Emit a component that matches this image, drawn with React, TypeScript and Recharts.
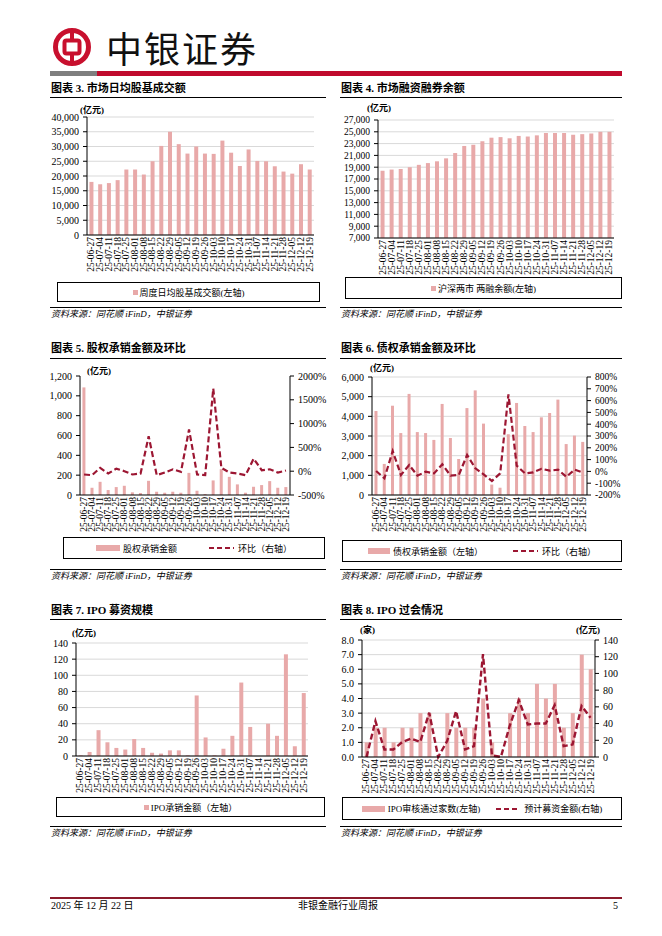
import React from 'react';
import { ComposedChart, Bar, Line, XAxis, YAxis, CartesianGrid } from 'recharts';

const weeks = ['25-06-27','25-07-04','25-07-11','25-07-18','25-07-25','25-08-01','25-08-08','25-08-15','25-08-22','25-08-29','25-09-05','25-09-12','25-09-19','25-09-26','25-10-03','25-10-10','25-10-17','25-10-24','25-10-31','25-11-07','25-11-14','25-11-21','25-11-28','25-12-05','25-12-12','25-12-19'];

const turnover = [18000,17200,17600,18600,22200,22200,20500,25000,30200,35000,30800,27600,30000,27600,27500,32000,27900,23400,29000,25100,25000,23300,21500,20800,24000,22200];
const marginBalance = [18400,18600,18700,19000,19400,19700,20000,20500,21400,22600,22800,23400,24000,24100,23900,24300,24200,24400,24800,24800,24800,24500,24600,24700,25000,25000];
const equityUw = [1085,73,133,50,80,93,27,20,143,33,23,33,23,223,43,10,147,260,183,107,23,83,100,140,73,80];
const equityMoM = [-69,-83,69,-49,55,0,-69,-49,735,-83,-28,40,-14,875,-69,-83,1735,69,-28,-49,-83,263,20,40,-28,14];
const bondUw = [4270,1580,4540,3150,5140,3200,3150,2800,4630,2900,1830,4420,5320,3630,530,370,3090,4680,3510,3200,3950,4170,4850,2590,3020,2700];
const bondMoM = [3,-59,173,-30,54,-36,-2,-17,60,-36,-30,139,26,-25,-81,-17,653,49,-17,-8,22,6,15,-46,15,-10];
const ipoAmount = [1,5,32,17,10,8,21,10,4,3,7,7,1,75,23,1,9,25,91,36,0,40,25,126,12,78];
const ipoPassed = [1,2,2,1,2,2,3,3,0,3,2,2,2,4,1,0,3,4,3,5,4,5,2,3,7,6];
const ipoExpected = [0,43,9,9,18,22,18,53,0,19,55,9,13,123,2,0,38,68,39,40,40,62,13,15,61,47];

const ticks3 = [0,5000,10000,15000,20000,25000,30000,35000,40000];
const ticks4 = [7000,9000,11000,13000,15000,17000,19000,21000,23000,25000,27000];
const ticks5L = [0,200,400,600,800,1000,1200];
const ticks5R = [-500,0,500,1000,1500,2000];
const ticks6L = [0,1000,2000,3000,4000,5000,6000];
const ticks6R = [-200,-100,0,100,200,300,400,500,600,700,800];
const ticks7 = [0,20,40,60,80,100,120,140];
const ticks8L = [0,1,2,3,4,5,6,7,8];
const ticks8R = [0,20,40,60,80,100,120,140];

const PINK = '#E8A9A9';
const RED = '#9C1632';
const GRID = '#D9D9D9';
const SERIF = '"Liberation Serif","Noto Sans CJK SC",serif';

const d3 = weeks.map((w, i) => ({ w, v: turnover[i] }));
const d4 = weeks.map((w, i) => ({ w, v: marginBalance[i] }));
const d5 = weeks.map((w, i) => ({ w, v: equityUw[i], p: equityMoM[i] }));
const d6 = weeks.map((w, i) => ({ w, v: bondUw[i], p: bondMoM[i] }));
const d7 = weeks.map((w, i) => ({ w, v: ipoAmount[i] }));
const d8 = weeks.map((w, i) => ({ w, v: ipoPassed[i], p: ipoExpected[i] }));

const fmtNum = (v: number) => v.toLocaleString('en-US');
const fmtPct = (v: number) => `${v}%`;
const fmt1 = (v: number) => v.toFixed(1);

const XTick = (props: any) => {
  const { x, y, payload } = props;
  return (
    <text x={x} y={y} transform={`rotate(-90 ${x} ${y})`} textAnchor="end" dominantBaseline="central"
      fontSize={9.5} fontFamily={SERIF} fill="#000">{payload.value}</text>
  );
};

const yTick = { fontSize: 10, fill: '#000', fontFamily: SERIF };
const yTickS = { fontSize: 9.5, fill: '#000', fontFamily: SERIF };
const axisStroke = { stroke: '#000' };

const T = ({ x, y, size = 10, bold = false, italic = false, anchor = 'start', children }: any) => (
  <div style={{
    position: 'absolute', left: x, top: y - 10, height: 20, lineHeight: '20px', fontSize: size,
    fontWeight: bold ? 700 : 400, fontStyle: italic ? 'italic' : 'normal', whiteSpace: 'nowrap',
    fontFamily: SERIF, color: '#000',
    transform: anchor === 'middle' ? 'translateX(-50%)' : anchor === 'end' ? 'translateX(-100%)' : 'none',
  }}>{children}</div>
);

const HLine = ({ x1, x2, y, color = '#000', h = 1 }: any) => (
  <div style={{ position: 'absolute', left: x1, top: y, width: x2 - x1, height: h, background: color }} />
);

const SwBox = () => <span style={{ display: 'inline-block', width: 5, height: 5, background: PINK, marginRight: 2 }} />;
const SwBar = ({ w = 24 }: any) => <span style={{ display: 'inline-block', width: w, height: 6, background: PINK, marginRight: 3 }} />;
const SwDash = ({ w = 25 }: any) => (
  <svg width={w} height={6} style={{ marginRight: 4 }}>
    <line x1={0} y1={3} x2={w} y2={3} stroke={RED} strokeWidth={2.2} strokeDasharray="5 3" />
  </svg>
);

const LegendBox = ({ left, top, width, height, gap = 30, children }: any) => (
  <div style={{
    position: 'absolute', left, top, width, height, border: '1px solid #000', boxSizing: 'border-box',
    display: 'flex', alignItems: 'center', justifyContent: 'center', gap, fontSize: 9, fontFamily: SERIF, whiteSpace: 'nowrap',
  }}>{children}</div>
);
const Item = ({ children }: any) => <span style={{ display: 'inline-flex', alignItems: 'center' }}>{children}</span>;

const SOURCE = '资料来源：同花顺 iFinD，中银证券';

export default function App() {
  return (
    <div style={{ position: 'absolute', left: 0, top: 0, width: 662, height: 936, background: '#fff', fontFamily: SERIF, overflow: 'hidden' }}>
      {/* Header */}
      <svg style={{ position: 'absolute', left: 53, top: 28 }} width={38} height={38} viewBox="0 0 38 38">
        <circle cx={19} cy={19} r={16.5} fill="none" stroke="#C8102E" strokeWidth={5} />
        <rect x={11.5} y={12.5} width={15} height={13} rx={2} fill="none" stroke="#C8102E" strokeWidth={4} />
        <rect x={17} y={2} width={4} height={9} fill="#C8102E" />
        <rect x={17} y={27} width={4} height={9} fill="#C8102E" />
      </svg>
      <div style={{ position: 'absolute', left: 106, top: 24, fontSize: 36, lineHeight: '46px', letterSpacing: 2, fontFamily: '"Noto Sans CJK SC"', color: '#111' }}>中银证券</div>
      <div style={{ position: 'absolute', left: 50, top: 71, width: 47, height: 5, background: '#7F7F7F' }} />
      <div style={{ position: 'absolute', left: 97, top: 71, width: 525, height: 5, background: '#C00A2D' }} />

      {/* Titles */}
      <T x={51} y={88} size={11} bold>图表 3. 市场日均股基成交额</T>
      <HLine x1={50} x2={326} y={97} />
      <T x={341} y={88} size={11} bold>图表 4. 市场融资融券余额</T>
      <HLine x1={340} x2={622} y={97} />

      {/* Chart 3 */}
      <T x={80} y={110} size={9} bold>(亿元)</T>
      <div style={{ position: 'absolute', left: 40, top: 100 }}>
        <ComposedChart width={285} height={180} data={d3} margin={{ top: 17, right: 11, bottom: 0, left: 0 }} barCategoryGap="28%">
          <CartesianGrid vertical={false} stroke={GRID} />
          <XAxis dataKey="w" interval={0} tick={<XTick />} tickLine={false} tickSize={2} tickMargin={0} height={45} axisLine={axisStroke} />
          <YAxis width={47} interval={0} domain={[0, 40000]} ticks={ticks3} tickFormatter={fmtNum} tick={yTick} tickSize={4} tickMargin={4} axisLine={axisStroke} tickLine={axisStroke} />
          <Bar dataKey="v" fill={PINK} isAnimationActive={false} />
        </ComposedChart>
      </div>
      <LegendBox left={57} top={282} width={263} height={20}><Item><SwBox />周度日均股基成交额(左轴)</Item></LegendBox>
      <HLine x1={50} x2={326} y={307} />
      <T x={51} y={314} size={9} italic>{SOURCE}</T>

      {/* Chart 4 */}
      <T x={367} y={108} size={9} bold>(亿元)</T>
      <div style={{ position: 'absolute', left: 335, top: 100 }}>
        <ComposedChart width={285} height={180} data={d4} margin={{ top: 20, right: 6, bottom: 0, left: 0 }} barCategoryGap="28%">
          <CartesianGrid vertical={false} stroke={GRID} />
          <XAxis dataKey="w" interval={0} tick={<XTick />} tickLine={false} tickSize={2} tickMargin={0} height={42} axisLine={axisStroke} />
          <YAxis width={43} interval={0} domain={[7000, 27000]} ticks={ticks4} tickFormatter={fmtNum} tick={yTickS} tickSize={4} tickMargin={4} axisLine={axisStroke} tickLine={axisStroke} />
          <Bar dataKey="v" fill={PINK} isAnimationActive={false} />
        </ComposedChart>
      </div>
      <LegendBox left={345} top={277} width={277} height={22}><Item><SwBox />沪深两市 两融余额(左轴)</Item></LegendBox>
      <HLine x1={340} x2={622} y={307} />
      <T x={341} y={314} size={9} italic>{SOURCE}</T>

      {/* Titles 5/6 */}
      <T x={51} y={348} size={11} bold>图表 5. 股权承销金额及环比</T>
      <HLine x1={50} x2={326} y={358} />
      <T x={341} y={348} size={11} bold>图表 6. 债权承销金额及环比</T>
      <HLine x1={340} x2={622} y={358} />

      {/* Chart 5 */}
      <T x={87} y={371} size={9} bold>(亿元)</T>
      <div style={{ position: 'absolute', left: 40, top: 360 }}>
        <ComposedChart width={290} height={175} data={d5} margin={{ top: 16, right: 0, bottom: 0, left: 0 }} barCategoryGap="30%">
          <XAxis dataKey="w" interval={0} tick={<XTick />} tickLine={false} tickSize={2} tickMargin={0} height={40} axisLine={axisStroke} />
          <YAxis width={40} interval={0} domain={[0, 1200]} ticks={ticks5L} tickFormatter={fmtNum} tick={yTick} tickSize={4} tickMargin={4} axisLine={axisStroke} tickLine={axisStroke} />
          <YAxis yAxisId="r" interval={0} orientation="right" width={40} domain={[-500, 2000]} ticks={ticks5R} tickFormatter={fmtPct} tick={yTick} tickSize={4} tickMargin={4} axisLine={axisStroke} tickLine={axisStroke} />
          <Bar dataKey="v" fill={PINK} isAnimationActive={false} />
          <Line yAxisId="r" dataKey="p" stroke={RED} strokeWidth={2.2} strokeDasharray="6 3" dot={false} isAnimationActive={false} />
        </ComposedChart>
      </div>
      <LegendBox left={63} top={537} width={262} height={22} gap={32}>
        <Item><SwBar />股权承销金额</Item>
        <Item><SwDash />环比（右轴）</Item>
      </LegendBox>
      <HLine x1={50} x2={326} y={569} />
      <T x={51} y={576} size={9} italic>{SOURCE}</T>

      {/* Chart 6 */}
      <T x={370} y={368} size={9} bold>(亿元)</T>
      <div style={{ position: 'absolute', left: 335, top: 360 }}>
        <ComposedChart width={290} height={175} data={d6} margin={{ top: 17, right: 0, bottom: 0, left: 0 }} barCategoryGap="30%">
          <CartesianGrid vertical={false} stroke={GRID} />
          <XAxis dataKey="w" interval={0} tick={<XTick />} tickLine={false} tickSize={2} tickMargin={0} height={40} axisLine={axisStroke} />
          <YAxis width={37} interval={0} domain={[0, 6000]} ticks={ticks6L} tickFormatter={fmtNum} tick={yTick} tickSize={4} tickMargin={4} axisLine={axisStroke} tickLine={axisStroke} />
          <YAxis yAxisId="r" interval={0} orientation="right" width={38} domain={[-200, 800]} ticks={ticks6R} tickFormatter={fmtPct} tick={yTickS} tickSize={4} tickMargin={4} axisLine={axisStroke} tickLine={axisStroke} />
          <Bar dataKey="v" fill={PINK} isAnimationActive={false} />
          <Line yAxisId="r" dataKey="p" stroke={RED} strokeWidth={2.2} strokeDasharray="6 3" dot={false} isAnimationActive={false} />
        </ComposedChart>
      </div>
      <LegendBox left={342} top={540} width={280} height={22} gap={30}>
        <Item><SwBar w={22} />债权承销金额（左轴）</Item>
        <Item><SwDash />环比（右轴）</Item>
      </LegendBox>
      <HLine x1={340} x2={622} y={569} />
      <T x={341} y={576} size={9} italic>{SOURCE}</T>

      {/* Titles 7/8 */}
      <T x={51} y={610} size={11} bold>图表 7. IPO 募资规模</T>
      <HLine x1={50} x2={326} y={619} />
      <T x={341} y={610} size={11} bold>图表 8. IPO 过会情况</T>
      <HLine x1={340} x2={622} y={619} />

      {/* Chart 7 */}
      <T x={72} y={633} size={9} bold>(亿元)</T>
      <div style={{ position: 'absolute', left: 40, top: 625 }}>
        <ComposedChart width={285} height={168} data={d7} margin={{ top: 18, right: 17, bottom: 0, left: 0 }} barCategoryGap="30%">
          <CartesianGrid vertical={false} stroke={GRID} />
          <XAxis dataKey="w" interval={0} tick={<XTick />} tickLine={false} tickSize={2} tickMargin={0} height={37} axisLine={axisStroke} />
          <YAxis width={36} interval={0} domain={[0, 140]} ticks={ticks7} tick={yTick} tickSize={4} tickMargin={4} axisLine={axisStroke} tickLine={axisStroke} />
          <Bar dataKey="v" fill={PINK} isAnimationActive={false} />
        </ComposedChart>
      </div>
      <LegendBox left={56} top={797} width={269} height={20}><Item><SwBox />IPO承销金额（左轴）</Item></LegendBox>
      <HLine x1={50} x2={326} y={826} />
      <T x={51} y={833} size={9} italic>{SOURCE}</T>

      {/* Chart 8 */}
      <T x={360} y={630} size={9} bold>(家)</T>
      <T x={576} y={630} size={9} bold>(亿元)</T>
      <div style={{ position: 'absolute', left: 335, top: 625 }}>
        <ComposedChart width={290} height={168} data={d8} margin={{ top: 15, right: 0, bottom: 0, left: 0 }} barCategoryGap="30%">
          <CartesianGrid vertical={false} stroke={GRID} />
          <XAxis dataKey="w" interval={0} tick={<XTick />} tickLine={false} tickSize={2} tickMargin={0} height={36} axisLine={axisStroke} />
          <YAxis width={27} interval={0} domain={[0, 8]} ticks={ticks8L} tickFormatter={fmt1} tick={yTick} tickSize={4} tickMargin={4} axisLine={axisStroke} tickLine={axisStroke} />
          <YAxis yAxisId="r" interval={0} orientation="right" width={30} domain={[0, 140]} ticks={ticks8R} tick={yTick} tickSize={4} tickMargin={4} axisLine={axisStroke} tickLine={axisStroke} />
          <Bar dataKey="v" fill={PINK} isAnimationActive={false} />
          <Line yAxisId="r" dataKey="p" stroke={RED} strokeWidth={2.4} strokeDasharray="6 3" dot={false} isAnimationActive={false} />
        </ComposedChart>
      </div>
      <LegendBox left={342} top={797} width={280} height={23} gap={16}>
        <Item><SwBar w={23} />IPO审核通过家数(左轴)</Item>
        <Item><SwDash w={24} />预计募资金额(右轴)</Item>
      </LegendBox>
      <HLine x1={340} x2={622} y={826} />
      <T x={341} y={833} size={9} italic>{SOURCE}</T>

      {/* Footer */}
      <HLine x1={50} x2={622} y={897} color="#8B1A2B" h={1.5} />
      <T x={51} y={906} size={10}>2025 年 12 月 22 日</T>
      <T x={338} y={906} size={10} anchor="middle">非银金融行业周报</T>
      <T x={618} y={906} size={10} anchor="end">5</T>
    </div>
  );
}
